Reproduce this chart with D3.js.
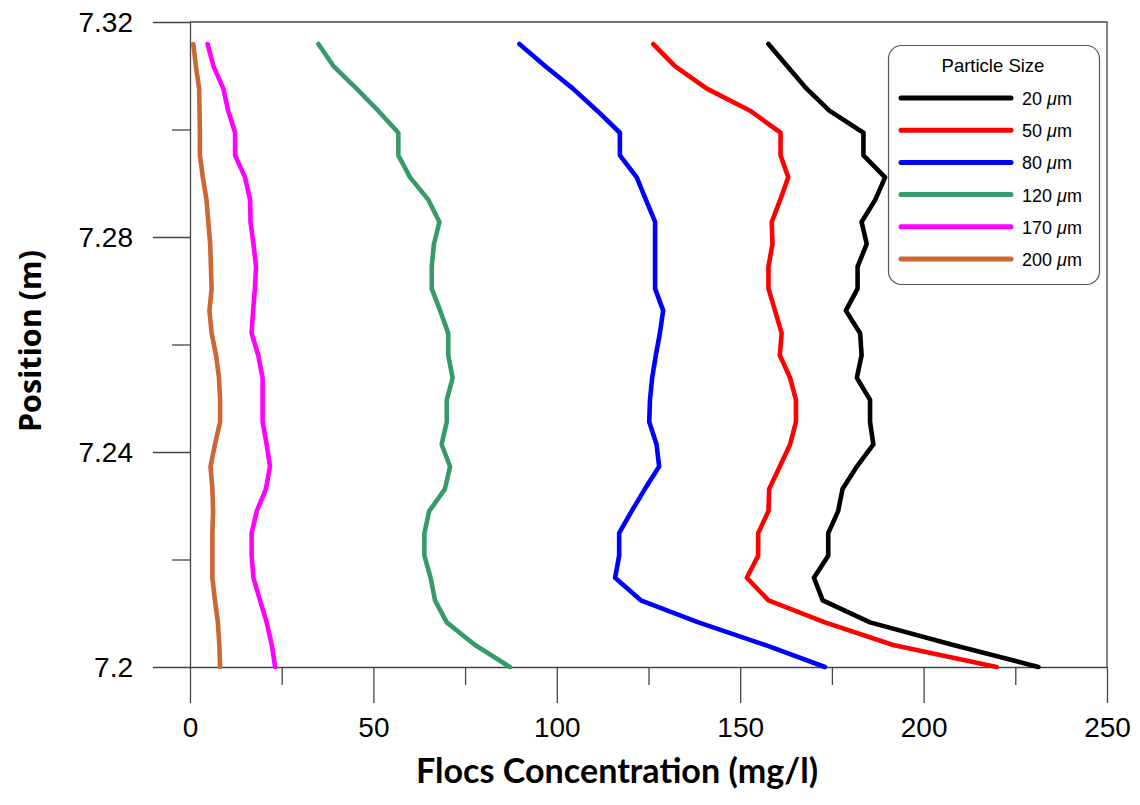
<!DOCTYPE html>
<html>
<head>
<meta charset="utf-8">
<script src="https://cdn.jsdelivr.net/npm/d3@7"></script>
<style>
  body { margin: 0; background: #fff; }
  .axis text { font-family: "Liberation Sans", Arial, sans-serif; font-size: 28px; fill: #000; }
  .axis path, .axis line { stroke: #444; stroke-width: 1.3px; }
</style>
</head>
<body>
<div id="chart"></div>
<script>
//////////////////////////
// data
//////////////////////////
var position = [7.3159, 7.3118, 7.3076, 7.3035, 7.2994, 7.2952, 7.2911, 7.2869, 7.2828, 7.2787,
                7.2745, 7.2704, 7.2663, 7.2621, 7.2580, 7.2538, 7.2497, 7.2456, 7.2414, 7.2373,
                7.2331, 7.2290, 7.2249, 7.2207, 7.2166, 7.2124, 7.2083, 7.2041, 7.2000];

var size20  = [157.7, 162.8, 168.1, 174.3, 183.6, 183.6, 189.5, 186.8, 183.1, 184.5,
               182.0, 182.0, 178.8, 182.7, 183.1, 181.8, 185.4, 185.4, 186.3, 181.8,
               177.9, 176.7, 174.0, 174.0, 170.1, 172.5, 185.4, 208.1, 231.3];
var size50  = [126.3, 132.2, 140.9, 152.7, 161.0, 161.0, 163.1, 160.9, 158.6, 158.8,
               157.7, 157.7, 159.5, 161.3, 160.8, 163.6, 165.2, 165.2, 163.6, 160.8,
               157.9, 157.7, 154.9, 154.9, 151.8, 157.7, 173.1, 191.7, 219.9];
var size80  = [89.8, 96.8, 104.4, 111.0, 117.2, 117.2, 121.8, 124.3, 126.8, 126.8,
               126.8, 126.8, 129.0, 128.1, 127.0, 126.0, 125.4, 125.2, 127.2, 127.9,
               124.0, 120.4, 117.0, 117.0, 115.9, 122.9, 138.6, 156.8, 173.1];
var size120 = [35.0, 39.1, 45.4, 51.3, 56.8, 56.8, 60.0, 65.0, 68.0, 66.5,
               65.9, 65.9, 68.2, 70.4, 70.4, 71.6, 70.0, 70.0, 68.6, 70.9,
               69.5, 65.2, 63.9, 63.9, 65.6, 66.8, 70.0, 77.7, 87.2];
var size170 = [4.8, 6.4, 9.1, 10.4, 12.3, 12.3, 15.0, 16.4, 16.5, 17.3,
               18.0, 17.7, 17.2, 16.8, 18.6, 19.8, 19.8, 19.8, 20.9, 21.8,
               20.7, 18.2, 16.8, 16.8, 17.3, 19.1, 20.9, 22.3, 23.2];
var size200 = [0.9, 1.6, 2.5, 2.6, 2.7, 2.7, 3.5, 4.5, 5.0, 5.5,
               5.7, 5.9, 5.3, 5.9, 7.1, 7.9, 8.2, 8.2, 6.8, 5.6,
               6.1, 6.3, 6.1, 6.1, 6.1, 6.8, 7.6, 8.0, 8.2];

var sizeLabels = ["20", "50", "80", "120", "170", "200"];
var sizeColors = ["#000000", "#ff0000", "#0000ff", "#379a69", "#ff00ff", "#cc6633"];

var xTicks = [0, 50, 100, 150, 200, 250],
    xMinor = [25, 75, 125, 175, 225],
    yTicks = [7.2, 7.24, 7.28, 7.32],
    yMinor = [7.22, 7.26, 7.30];

//////////////////////////
// setup profile plot
//////////////////////////
function profile_plot() {
  var W = 1140, H = 805;
  var margin = {top: 22, right: 33, bottom: 138, left: 190},
      width = W - margin.left - margin.right,
      height = H - margin.top - margin.bottom;

  var svg = d3.select("#chart").append("svg")
    .attr("width", W)
    .attr("height", H)
  .append("g")
    .attr("transform", "translate(" + margin.left + "," + margin.top + ")");

  // scales
  var x = d3.scaleLinear().domain([0, 250]).range([0, width]);
  var y = d3.scaleLinear().domain([7.2, 7.32]).range([height, 0]);

  // frame (top and right)
  svg.append("path")
    .attr("d", "M0,0H" + width + "V" + height)
    .attr("fill", "none")
    .attr("stroke", "#444")
    .attr("stroke-width", 1.3);

  // minor ticks first
  svg.append("g")
    .attr("class", "axis")
    .attr("transform", "translate(0," + height + ")")
    .call(d3.axisBottom(x).tickValues(xMinor).tickSize(18).tickFormat(""))
    .select(".domain").remove();
  svg.append("g")
    .attr("class", "axis")
    .call(d3.axisLeft(y).tickValues(yMinor).tickSize(18).tickFormat(""))
    .select(".domain").remove();

  // major axes
  svg.append("g")
    .attr("class", "axis")
    .attr("transform", "translate(0," + height + ")")
    .call(d3.axisBottom(x).tickValues(xTicks).tickSize(36).tickSizeOuter(0).tickPadding(14));
  svg.append("g")
    .attr("class", "axis")
    .call(d3.axisLeft(y).tickValues(yTicks).tickSize(37).tickSizeOuter(0).tickPadding(20)
      .tickFormat(function(d) { return String(+d.toFixed(2)); }))
    .selectAll(".tick text").attr("dy", "0.35em");

  // profile lines
  var series = [size20, size50, size80, size120, size170, size200];
  var line = d3.line()
    .x(function(d) { return x(d); })
    .y(function(d, i) { return y(position[i]); });

  svg.selectAll("path.profile")
    .data(series.slice().reverse())
    .enter().append("path")
    .attr("class", "profile")
    .attr("d", line)
    .attr("fill", "none")
    .attr("stroke", function(d, i) { return sizeColors[series.length - 1 - i]; })
    .attr("stroke-width", 4.6)
    .attr("stroke-linejoin", "round")
    .attr("stroke-linecap", "round");

  // legend
  var lg = svg.append("g")
    .attr("transform", "translate(" + (888 - margin.left) + "," + (45 - margin.top) + ")");
  lg.append("rect")
    .attr("x", 0.5).attr("y", 0.5)
    .attr("width", 211).attr("height", 239)
    .attr("rx", 13).attr("ry", 13)
    .attr("fill", "#fff")
    .attr("stroke", "#555")
    .attr("stroke-width", 1.2);
  lg.append("text")
    .attr("x", 105).attr("y", 27)
    .attr("text-anchor", "middle")
    .style("font-family", "'Liberation Sans', Arial, sans-serif")
    .style("font-size", "18.5px")
    .text("Particle Size");

  var items = lg.selectAll("g.item")
    .data(sizeLabels)
    .enter().append("g")
    .attr("class", "item")
    .attr("transform", function(d, i) { return "translate(0," + (53 + i * 32.2) + ")"; });
  items.append("line")
    .attr("x1", 13).attr("x2", 123)
    .attr("stroke", function(d, i) { return sizeColors[i]; })
    .attr("stroke-width", 5)
    .attr("stroke-linecap", "round");
  var t = items.append("text")
    .attr("x", 134).attr("y", 7)
    .style("font-family", "'Liberation Sans', Arial, sans-serif")
    .style("font-size", "18px");
  t.append("tspan").text(function(d) { return d + " "; });
  t.append("tspan").style("font-style", "italic").text("\u03bc");
  t.append("tspan").text("m");

  // axis titles
  svg.append("text")
    .attr("transform", "translate(" + (41 - margin.left) + "," + (341 - margin.top) + ") rotate(-90)")
    .attr("text-anchor", "middle")
    .style("font-family", "'Open Sans', sans-serif")
    .style("font-weight", "bold")
    .style("font-size", "30px")
    .attr("textLength", 182)
    .attr("lengthAdjust", "spacingAndGlyphs")
    .text("Position (m)");

  svg.append("text")
    .attr("x", 617 - margin.left)
    .attr("y", 783 - margin.top)
    .attr("text-anchor", "middle")
    .style("font-family", "Lato, 'Open Sans', sans-serif")
    .style("font-weight", "bold")
    .style("font-size", "34px")
    .attr("textLength", 402)
    .attr("lengthAdjust", "spacingAndGlyphs")
    .text("Flocs Concentration (mg/l)");
}

profile_plot();
</script>
</body>
</html>
